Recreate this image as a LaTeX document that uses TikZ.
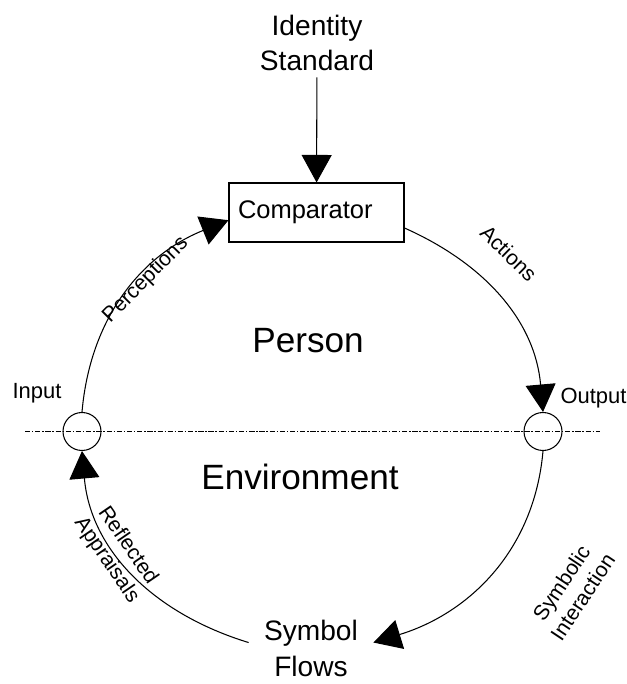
\documentclass[tikz,border=0pt]{standalone}
\usepackage{fontspec}
\setmainfont{Liberation Sans}
\usetikzlibrary{positioning,arrows.meta,calc}

\begin{document}
\begin{tikzpicture}[
	line width=0.6pt,
	flow/.style={-{Triangle[width=0.6cm,length=0.55cm]}},
	port/.style={draw,circle,minimum size=0.76cm,inner sep=0pt},
	lbl/.style={font=\fontsize{12}{14.5}\selectfont,align=center},
	big/.style={font=\fontsize{20}{24}\selectfont}
	]
	\useasboundingbox (0,0) rectangle (12.54,13.68);
	\node[font=\fontsize{16}{20}\selectfont,align=center] (ident) at (6.34,12.82) {Identity\\Standard};
	\node[draw,minimum width=3.5cm,minimum height=1.18cm,text width=3.14cm,inner xsep=0.18cm,align=left,font=\fontsize{14.5}{17}\selectfont] (comp) at (6.33,9.43) {Comparator};
	\node[port] (in) at (1.64,5.05) {};
	\node[port] (out) at (10.86,5.05) {};
	\node[font=\fontsize{16}{20.5}\selectfont,align=center,inner sep=0.3cm] (flows) at (6.22,0.72) {Symbol\\Flows};
	\node[big] (person) at (6.16,6.86) {Person};
	\node[big] (env) at (6.0,4.14) {Environment};
	\node[font=\fontsize{12.5}{14}\selectfont] (inlbl) at (0.74,5.81) {Input};
	\node[font=\fontsize{12.5}{14}\selectfont] (outlbl) at (11.87,5.72) {Output};
	% dividing line
	\coordinate (l) at (0.5,5.05);
	\coordinate (r) at (12.0,5.05);
	\draw[line width=0.4pt,dash pattern=on 3pt off 1pt on 0.8pt off 1pt] (l) -- (r);
	% loop
	\draw[flow] (ident) -- (comp);
	\draw[flow] (in.north) to[out=85,in=202] node[pos=0.6,sloped,below=-2.6pt,inner sep=0pt,lbl] {Perceptions} (comp.185);
	\draw[flow] (comp.350) to[out=-24,in=95] node[pos=0.38,sloped,above=0.45cm,lbl] {Actions} (out.north);
	\draw[flow] (out.south) to[out=-95,in=17] node[pos=0.38,sloped,below=0.95cm,lbl] {Symbolic\\Interaction} (flows.5);
	\draw[flow] (flows.175) to[out=163,in=-85] node[pos=0.6,sloped,lbl] {Reflected\\Appraisals} (in.south);
\end{tikzpicture}
\end{document}
